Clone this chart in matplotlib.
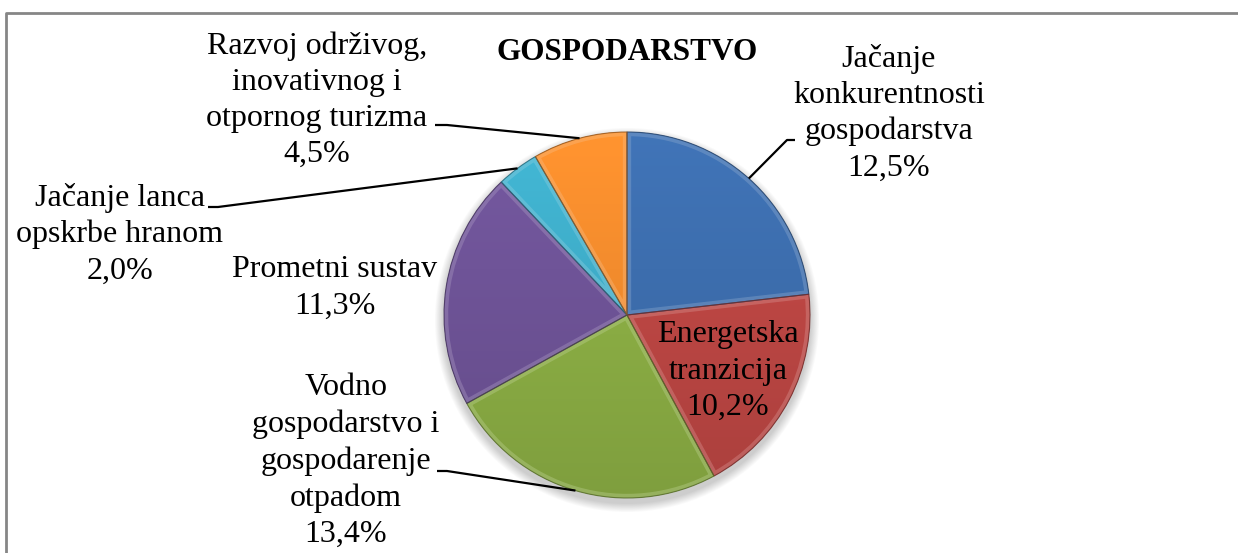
import numpy as np
import matplotlib
matplotlib.use("Agg")
import matplotlib.pyplot as plt
from matplotlib.patches import Wedge, Circle
from matplotlib.colors import to_rgb

# data
categories = [
    "Jačanje\nkonkurentnosti\ngospodarstva",
    "Energetska\ntranzicija",
    "Vodno\ngospodarstvo i\ngospodarenje\notpadom",
    "Prometni sustav",
    "Jačanje lanca\nopskrbe hranom",
    "Razvoj održivog,\ninovativnog i\notpornog turizma",
]
shares = [12.5, 10.2, 13.4, 11.3, 2.0, 4.5]
chart_title = "GOSPODARSTVO"

# styling / layout (pixel coordinates, y measured from the top)
slice_colors = ["#3D6EAE", "#BE4744", "#8DB045", "#6F5498", "#3FAECA", "#F38C2D"]
W, H = 1238, 553
pie_center = (627, 315)
pie_radius = 183
label_pos = [(889, 113), (728, 371), (346, 461), (335, 288), (120, 234), (317, 100)]
leader_elbows = {
    0: [(787, 140), (795, 140)],
    2: [(447, 471), (437, 471)],
    4: [(218, 207), (208, 207)],
    5: [(447, 125), (435, 125)],
}
FONT = "Liberation Serif"
FS = 23


def fy(y):
    return H - y


def fmt_pct(v):
    return f"{v:.1f}".replace(".", ",") + "%"


fig = plt.figure(figsize=(W / 100, H / 100), dpi=100)
ax = fig.add_axes([0, 0, 1, 1])

cx, cy = pie_center[0], fy(pie_center[1])

# soft shadow below the pie
for i in range(10):
    ax.add_patch(Circle((cx, cy - 5), pie_radius + 1 + i * 0.9, color="black",
                        alpha=0.018, lw=0, zorder=1))

wedges, _ = ax.pie(shares, center=(cx, cy), radius=pie_radius, startangle=90,
                   counterclock=False, colors=slice_colors,
                   wedgeprops=dict(linewidth=0, zorder=2), frame=True)

# bevel-like shading on each slice
n = 200
shade = np.linspace(1.06, 0.90, n)
extent = (cx - pie_radius, cx + pie_radius, cy - pie_radius, cy + pie_radius)
for w, col in zip(wedges, slice_colors):
    base = np.array(to_rgb(col))
    img = np.clip(base[None, None, :] * shade[:, None, None] * np.ones((1, n, 1)), 0, 1)
    im = ax.imshow(img, extent=extent, zorder=2.5, interpolation="bilinear", aspect="auto")
    im.set_clip_path(w)
    light = base + (1 - base) * 0.4
    hl = Wedge(w.center, w.r, w.theta1, w.theta2, fill=False, edgecolor=light,
               lw=6, alpha=0.4, zorder=3)
    ax.add_patch(hl)
    hl.set_clip_path(w)
    ax.add_patch(Wedge(w.center, w.r, w.theta1, w.theta2, fill=False,
                       edgecolor=base * 0.6, lw=0.8, alpha=0.8, zorder=4))

# leader lines from slice rim to label
for idx, elbow in leader_elbows.items():
    w = wedges[idx]
    mid = np.deg2rad((w.theta1 + w.theta2) / 2)
    xs = [cx + pie_radius * np.cos(mid)] + [p[0] for p in elbow]
    ys = [cy + pie_radius * np.sin(mid)] + [fy(p[1]) for p in elbow]
    ax.plot(xs, ys, color="black", lw=1.6, zorder=5, solid_capstyle="butt")

# labels
for cat, v, (lx, ly) in zip(categories, shares, label_pos):
    ax.text(lx, fy(ly), f"{cat}\n{fmt_pct(v)}", ha="center", va="center",
            multialignment="center", fontsize=FS, family=FONT, linespacing=1.32,
            color="black", zorder=6)

ax.text(627, fy(52), chart_title, ha="center", va="center", fontsize=22.5,
        family=FONT, fontweight="bold", zorder=6)

# outer chart-area border (only the top and left edges are in view)
ax.plot([6, 6, W + 5], [-5, fy(13), fy(13)], color="#868686", lw=2, zorder=7)

ax.set_xlim(0, W)
ax.set_ylim(0, H)
ax.set_aspect("equal")
ax.axis("off")

fig.savefig("out.png", dpi=100)
